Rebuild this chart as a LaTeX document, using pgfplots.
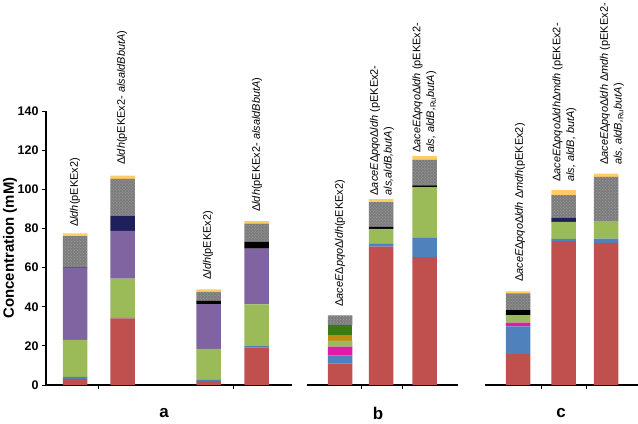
\documentclass[border=0pt]{standalone}
\usepackage{fontspec}
\setmainfont{Liberation Sans}
\usepackage{pgfplots}
\usepackage{pgfplotstable}
\pgfplotsset{compat=1.18}
\usetikzlibrary{patterns}
\definecolor{cRed}{HTML}{C0504D}
\definecolor{cBlue}{HTML}{4F81BD}
\definecolor{cMag}{HTML}{E21BA6}
\definecolor{cGreen}{HTML}{9BBB59}
\definecolor{cOrange}{HTML}{C48A12}
\definecolor{cDkg}{HTML}{3E7A12}
\definecolor{cPurple}{HTML}{8064A2}
\definecolor{cNavy}{HTML}{1F1F5C}
\definecolor{cGray}{HTML}{7C7C7C}
\definecolor{cGrayDot}{HTML}{A4A4A4}
\definecolor{cYellow}{HTML}{FFCC66}

\pgfplotstableread{
x     red  blue mag green orange dkg purple navy black gray yellow
75    3.1  1.1  0   18.8  0      0   36.5   0.6  0     16.0 1.4
122.5 34.0 0.3  0   20.1  0      0   24.3   7.9  0     18.7 1.7
208.5 2.0  0.9  0   15.5  0      0   22.9   0    1.7   4.6  1.2
256.5 19.2 0.7  0   21.3  0      0   28.5   0    3.4   9.4  1.2
340   11.1 4.1  4.4 3.1   2.7    5.1 0      0    0     5.1  0
381   70.7 1.7  0   7.4   0      0   0      0    1.0   12.6 1.6
424.5 65.3 9.9  0   25.8  0      0   0      0    1.0   13.0 2.0
518   15.8 14.2 1.9 3.7   0      0   0      0    2.6   8.6  1.1
563.5 73.5 1.2  0   8.6   0      0   0      2.1  0     11.6 2.6
606   72.6 2.2  0   8.9   0      0   0      0    0     22.7 1.6
}\data

\newcommand{\lab}[3]{\node[rotate=90, anchor=west, align=left, inner sep=0pt, font=\fontsize{11}{13.8}\selectfont] at (axis cs:#1,#2) {#3};}

\begin{document}
\begin{tikzpicture}
\path[use as bounding box] (0,0) rectangle (638bp,424bp);
\begin{axis}[
  at={(46bp,39bp)}, anchor=south west, scale only axis,
  width=592bp, height=274bp,
  xmin=46, xmax=638, ymin=0, ymax=140,
  axis x line=bottom, axis y line=left, axis line style={-},
  x axis line style={draw=none},
  y axis line style={line width=1.2pt},
  ybar stacked, bar width=24.5,
  xtick={98,233,361,402,541,586}, xticklabels={},
  ytick={0,20,...,140},
  tick align=outside, major tick length=4bp,
  tick style={black, line width=0.8pt},
  yticklabel style={font=\bfseries\fontsize{12.5}{13}\selectfont},
  /pgf/number format/assume math mode=true,
  ylabel={Concentration (mM)},
  ylabel style={font=\bfseries\fontsize{15}{16}\selectfont, at={(axis description cs:-0.0608,0.5)}, anchor=center},
  clip=false,
]
\addplot[fill=cRed, draw=none] table[x=x,y=red]{\data};
\addplot[fill=cBlue, draw=none] table[x=x,y=blue]{\data};
\addplot[fill=cMag, draw=none] table[x=x,y=mag]{\data};
\addplot[fill=cGreen, draw=none] table[x=x,y=green]{\data};
\addplot[fill=cOrange, draw=none] table[x=x,y=orange]{\data};
\addplot[fill=cDkg, draw=none] table[x=x,y=dkg]{\data};
\addplot[fill=cPurple, draw=none] table[x=x,y=purple]{\data};
\addplot[fill=cNavy, draw=none] table[x=x,y=navy]{\data};
\addplot[fill=black, draw=none] table[x=x,y=black]{\data};
\addplot[fill=cGray, draw=none, postaction={pattern=crosshatch dots, pattern color=cGrayDot}] table[x=x,y=gray]{\data};
\addplot[fill=cYellow, draw=none] table[x=x,y=yellow]{\data};

\draw[line width=1.2pt] (axis cs:46,0) -- (axis cs:292,0);
\draw[line width=1.2pt] (axis cs:307,0) -- (axis cs:458,0);
\draw[line width=1.2pt] (axis cs:485,0) -- (axis cs:638,0);

\lab{75}{80.7}{Δ\textit{ldh}(pEKEx2)}
\lab{122}{112.4}{Δ\textit{ldh}(pEKEx2- \textit{alsaldBbutA})}
\lab{208}{53.7}{Δ\textit{ldh}(pEKEx2)}
\lab{257}{88.4}{Δ\textit{ldh}(pEKEx2- \textit{alsaldBbutA})}
\lab{340}{39.9}{Δ\textit{aceE}Δ\textit{pqo}Δ\textit{ldh}(pEKEx2)}
\lab{382}{96.8}{Δ\textit{aceE}Δ\textit{pqo}Δ\textit{ldh} (pEKEx2-\\\textit{als,aldB,butA})}
\lab{424.5}{118.5}{Δ\textit{aceE}Δ\textit{pqo}Δ\textit{ldh} (pEKEx2-\\\textit{als, aldB,}\textsubscript{Ru}\textit{butA})}
\lab{520}{52.6}{Δ\textit{aceE}Δ\textit{pqo}Δ\textit{ldh} Δ\textit{mdh}(pEKEx2)}
\lab{564.5}{103.7}{Δ\textit{aceE}Δ\textit{pqo}Δ\textit{ldh}Δ\textit{mdh} (pEKEx2-\\\textit{als, aldB, butA})}
\lab{612}{112.4}{Δ\textit{aceE}Δ\textit{pqo}Δ\textit{ldh} Δ\textit{mdh} (pEKEx2-\\\textit{als, aldB,}\textsubscript{Ru}\textit{butA})}

\node[font=\bfseries\fontsize{17}{17}\selectfont] at (axis cs:164,-14.3) {a};
\node[font=\bfseries\fontsize{17}{17}\selectfont] at (axis cs:378,-14.3) {b};
\node[font=\bfseries\fontsize{17}{17}\selectfont] at (axis cs:561,-14.3) {c};
\end{axis}
\end{tikzpicture}
\end{document}
